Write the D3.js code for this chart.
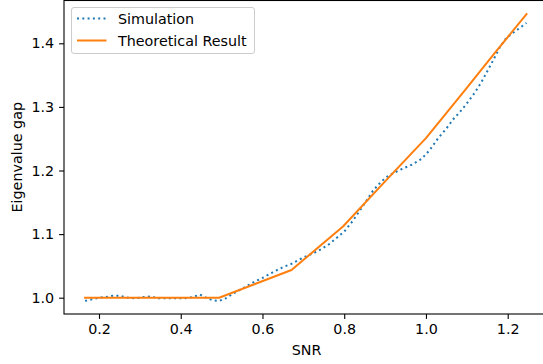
<!DOCTYPE html>
<html>
<head>
<meta charset="utf-8">
<script src="https://cdn.jsdelivr.net/npm/d3@7"></script>
<style>
  html, body { margin: 0; padding: 0; background: #fff; }
  svg { display: block; font-family: "DejaVu Sans", sans-serif; }
</style>
</head>
<body>
<svg id="chart" width="543" height="364"></svg>
<script>
// ---- data ----
const simSNR = [0.166,0.18,0.20,0.215,0.234,0.25,0.27,0.288,0.31,0.325,0.345,0.36,0.38,0.41,0.43,0.447,0.462,0.478,0.494,0.51,0.53,0.55,0.58,0.60,0.625,0.65,0.67,0.69,0.71,0.735,0.765,0.785,0.80,0.82,0.85,0.87,0.887,0.90,0.911,0.94,0.965,0.989,1.009,1.03,1.05,1.066,1.087,1.103,1.119,1.135,1.150,1.165,1.18,1.195,1.21,1.225,1.246];
const simGap = [0.995,0.997,1.000,1.001,1.003,1.003,1.000,0.999,1.001,1.002,0.999,0.999,0.999,0.999,1.001,1.005,1.000,0.996,0.995,0.999,1.007,1.014,1.025,1.031,1.040,1.048,1.053,1.060,1.066,1.073,1.085,1.096,1.104,1.120,1.148,1.168,1.180,1.188,1.193,1.202,1.209,1.218,1.232,1.251,1.266,1.280,1.295,1.308,1.322,1.338,1.356,1.374,1.393,1.407,1.415,1.422,1.432];
const theoSNR = [0.166,0.494,0.671,0.797,0.90,1.0,1.1,1.17,1.246];
const theoGap = [1.0,1.0,1.0435,1.112,1.183,1.251,1.330,1.386,1.446];
const xTicks = [0.2,0.4,0.6,0.8,1.0,1.2];
const yTicks = [1.0,1.1,1.2,1.3,1.4];
const seriesNames = ["Simulation","Theoretical Result"];
const colors = ["#1f77b4","#ff7f0e"];

// ---- layout ----
const svg = d3.select("#chart");
const L = 64, R = 549, T = 0.5, B = 314;
const fs = 14.3;
const lw = 2.0;
const dash = "2,3.3";

const x = d3.scaleLinear().domain([0.2,1.2]).range([99,507.7]);
const y = d3.scaleLinear().domain([1.0,1.4]).range([297.7,43.3]);

svg.append("clipPath").attr("id","clip").append("rect")
  .attr("x",L).attr("y",T).attr("width",R-L).attr("height",B-T);

const plot = svg.append("g").attr("clip-path","url(#clip)");

const line = d3.line().x(d=>x(d[0])).y(d=>y(d[1]));
const simData = simSNR.map((v,i)=>[v,simGap[i]]);
const theoData = theoSNR.map((v,i)=>[v,theoGap[i]]);

plot.append("path").datum(simData).attr("d",line)
  .attr("fill","none").attr("stroke",colors[0]).attr("stroke-width",lw)
  .attr("stroke-dasharray",dash).attr("stroke-linecap","butt");
plot.append("path").datum(theoData).attr("d",line)
  .attr("fill","none").attr("stroke",colors[1]).attr("stroke-width",lw)
  .attr("stroke-linejoin","round").attr("stroke-linecap","square");

// axes
const xAxis = d3.axisBottom(x).tickValues(xTicks).tickFormat(d3.format(".1f")).tickSize(4.9).tickPadding(4.9);
const gx = svg.append("g").attr("transform",`translate(0,${B})`).call(xAxis);
const yAxis = d3.axisLeft(y).tickValues(yTicks).tickFormat(d3.format(".1f")).tickSize(4.9).tickPadding(4.9);
const gy = svg.append("g").attr("transform",`translate(${L},0)`).call(yAxis);
[gx,gy].forEach(g=>{
  g.select(".domain").remove();
  g.selectAll("line").attr("stroke","#000").attr("stroke-width",1.1);
  g.selectAll("text").attr("fill","#000").style("font-size",fs+"px").style("font-family","DejaVu Sans");
});

// spines
svg.append("rect").attr("x",L).attr("y",T).attr("width",R-L).attr("height",B-T)
  .attr("fill","none").attr("stroke","#000").attr("stroke-width",1.1);

// axis labels
svg.append("text").attr("x",(L+R)/2).attr("y",355).attr("text-anchor","middle")
  .style("font-size",fs+"px").text("SNR");
svg.append("text").attr("transform",`translate(22,${(T+B)/2}) rotate(-90)`)
  .attr("text-anchor","middle").style("font-size",fs+"px").text("Eigenvalue gap");

// legend
const lg = svg.append("g");
lg.append("rect").attr("x",71.5).attr("y",7.5).attr("width",183).attr("height",46)
  .attr("rx",2.5).attr("fill","#fff").attr("fill-opacity",0.8).attr("stroke","#ccc").attr("stroke-width",1);
const ly = [18.5,40.5];
seriesNames.forEach((n,i)=>{
  const l = lg.append("line").attr("x1",77).attr("x2",106.5).attr("y1",ly[i]).attr("y2",ly[i])
    .attr("stroke",colors[i]).attr("stroke-width",lw);
  if(i===0) l.attr("stroke-dasharray",dash);
  lg.append("text").attr("x",118).attr("y",ly[i]).attr("dy","0.36em")
    .style("font-size",fs+"px").text(n);
});
</script>
</body>
</html>
